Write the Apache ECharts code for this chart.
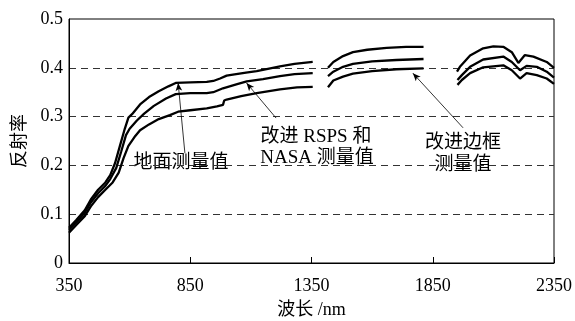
<!DOCTYPE html>
<html>
<head>
<meta charset="utf-8">
<script src="https://cdn.jsdelivr.net/npm/echarts@6/dist/echarts.min.js"></script>
<style>
  html, body { margin: 0; padding: 0; background: #fff; }
  #chart { width: 575px; height: 321px; }
</style>
</head>
<body>
<div id="chart"></div>
<script>
// wavelength (nm) / reflectance pairs, '-' breaks the line at the water bands
var groundData = [
  [350, 0.072], [380, 0.088], [415, 0.108], [440, 0.130], [470, 0.150], [500, 0.165],
  [520, 0.180], [540, 0.205], [560, 0.240], [580, 0.275], [595, 0.298], [610, 0.305],
  [643, 0.325], [680, 0.340], [720, 0.352], [760, 0.362], [790, 0.369], [850, 0.370],
  [918, 0.371], [945, 0.373], [973, 0.378], [1000, 0.384], [1026, 0.386], [1080, 0.390],
  [1124, 0.393], [1170, 0.398], [1220, 0.403], [1280, 0.408], [1355, 0.412],
  [1380, '-'],
  [1418, 0.400], [1440, 0.412], [1480, 0.424], [1521, 0.432], [1580, 0.437], [1660, 0.441],
  [1740, 0.443], [1812, 0.443],
  [1880, '-'],
  [1950, 0.392], [1962, 0.402], [2004, 0.425], [2058, 0.440], [2100, 0.444], [2141, 0.443],
  [2176, 0.432], [2203, 0.410], [2230, 0.426], [2265, 0.423], [2320, 0.412], [2350, 0.400]
];
var rspsData = [
  [350, 0.068], [380, 0.083], [415, 0.103], [440, 0.124], [470, 0.143], [500, 0.158],
  [520, 0.172], [545, 0.195], [565, 0.228], [585, 0.262], [600, 0.275], [630, 0.292],
  [660, 0.306], [700, 0.322], [750, 0.337], [790, 0.346], [850, 0.348], [918, 0.348],
  [945, 0.350], [985, 0.358], [1040, 0.366], [1083, 0.372], [1150, 0.377], [1220, 0.383],
  [1280, 0.387], [1355, 0.389],
  [1380, '-'],
  [1418, 0.383], [1440, 0.392], [1480, 0.402], [1521, 0.408], [1600, 0.413], [1700, 0.416],
  [1812, 0.418],
  [1880, '-'],
  [1952, 0.375], [1970, 0.385], [2004, 0.402], [2058, 0.417], [2141, 0.423], [2176, 0.412],
  [2210, 0.395], [2237, 0.404], [2279, 0.402], [2320, 0.392], [2350, 0.380]
];
var frameData = [
  [350, 0.062], [380, 0.078], [415, 0.096], [440, 0.116], [470, 0.135], [500, 0.150],
  [530, 0.165], [555, 0.185], [575, 0.215], [595, 0.240], [620, 0.258], [643, 0.272],
  [680, 0.284], [720, 0.295], [766, 0.303], [800, 0.310], [850, 0.313], [918, 0.317],
  [960, 0.321], [985, 0.324], [990, 0.333], [1000, 0.335], [1060, 0.342], [1124, 0.348],
  [1220, 0.356], [1290, 0.360], [1355, 0.361],
  [1380, '-'],
  [1418, 0.360], [1440, 0.374], [1480, 0.382], [1521, 0.388], [1600, 0.393], [1700, 0.397],
  [1812, 0.399],
  [1880, '-'],
  [1952, 0.365], [1970, 0.375], [2004, 0.389], [2058, 0.401], [2141, 0.405], [2176, 0.395],
  [2210, 0.378], [2237, 0.389], [2279, 0.385], [2320, 0.378], [2350, 0.367]
];
var seriesNames = ['地面测量值', '改进 RSPS 和 NASA 测量值', '改进边框测量值'];
// arrows: [from, to] in data units
var arrows = [
  [[828, 0.225], [800, 0.369]],
  [[1204, 0.297], [1082, 0.369]],
  [[1975, 0.277], [1768, 0.389]]
];

var font = '"Liberation Serif", "Noto Sans CJK SC", serif';
var chart = echarts.init(document.getElementById('chart'));

function lineSeries(name, data, extra) {
  var s = {
    type: 'line',
    name: name,
    data: data,
    showSymbol: false,
    connectNulls: false,
    animation: false,
    lineStyle: { color: '#000', width: 2.3 }
  };
  return Object.assign(s, extra || {});
}

chart.setOption({
  animation: false,
  grid: {
    left: 69, right: 21, top: 19, bottom: 58,
    outerBoundsMode: 'none',
    containLabel: false,
    show: true, borderColor: '#000', borderWidth: 1
  },
  xAxis: {
    type: 'value',
    min: 350, max: 2350, interval: 500,
    name: '波长 /nm',
    nameLocation: 'middle',
    nameGap: 38,
    nameTextStyle: { color: '#000', fontFamily: font, fontSize: 18 },
    axisLine: { show: true, lineStyle: { color: '#000', width: 1 } },
    axisTick: { show: true, inside: true, length: 6, lineStyle: { color: '#000' } },
    axisLabel: {
      color: '#000', fontFamily: font, fontSize: 18, margin: 14,
      formatter: function (v) { return String(v); }
    },
    splitLine: { show: false }
  },
  yAxis: {
    type: 'value',
    min: 0, max: 0.5, interval: 0.1,
    name: '反射率',
    nameLocation: 'middle',
    nameGap: 40,
    nameRotate: 90,
    nameTextStyle: { color: '#000', fontFamily: font, fontSize: 18 },
    axisLine: { show: true, lineStyle: { color: '#000', width: 1 } },
    axisTick: { show: false },
    axisLabel: {
      color: '#000', fontFamily: font, fontSize: 18, margin: 6,
      formatter: function (v) { return v === 0 ? '0' : v.toFixed(1); }
    },
    splitLine: {
      show: true, showMinLine: false, showMaxLine: false,
      lineStyle: { color: '#333', width: 1, type: [7, 5] }
    }
  },
  series: [
    lineSeries(seriesNames[0], groundData, {
      markLine: {
        silent: true,
        animation: false,
        symbol: ['none', 'arrow'],
        symbolSize: [5, 8],
        label: { show: false },
        lineStyle: { color: '#000', width: 0.8, type: 'solid' },
        data: arrows.map(function (a) {
          return [{ coord: a[0] }, { coord: a[1] }];
        })
      }
    }),
    lineSeries(seriesNames[1], rspsData),
    lineSeries(seriesNames[2], frameData)
  ],
  graphic: [
    { type: 'text', x: 181, y: 163, style: { text: '地面测量值', font: '19px ' + font, fill: '#000', align: 'center', verticalAlign: 'middle' } },
    { type: 'text', x: 316, y: 137, style: { text: '改进 RSPS 和', font: '19px ' + font, fill: '#000', align: 'center', verticalAlign: 'middle' } },
    { type: 'text', x: 317, y: 158, style: { text: 'NASA 测量值', font: '19px ' + font, fill: '#000', align: 'center', verticalAlign: 'middle' } },
    { type: 'text', x: 463, y: 143, style: { text: '改进边框', font: '19px ' + font, fill: '#000', align: 'center', verticalAlign: 'middle' } },
    { type: 'text', x: 463, y: 165, style: { text: '测量值', font: '19px ' + font, fill: '#000', align: 'center', verticalAlign: 'middle' } }
  ]
});
</script>
</body>
</html>
